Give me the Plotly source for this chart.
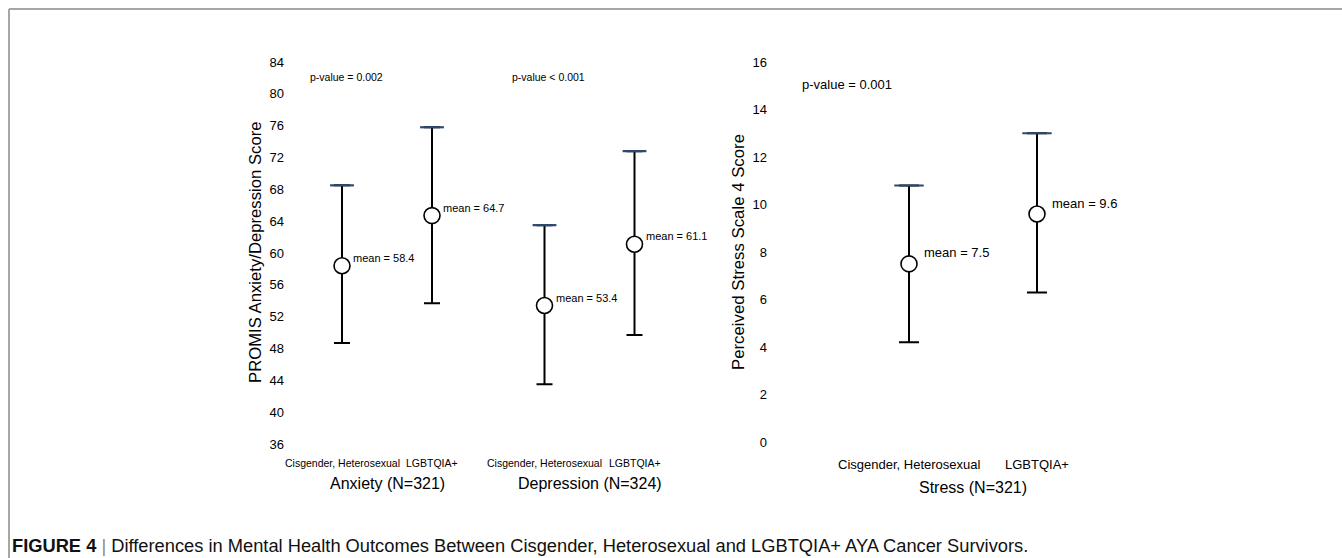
import plotly.graph_objects as go

# ---------------- data ----------------
groups_left = ["Anxiety (N=321)", "Depression (N=324)"]
groups_right = ["Stress (N=321)"]
subgroups = ["Cisgender, Heterosexual", "LGBTQIA+"]

anx_mean = [58.4, 64.7]
anx_upper = [68.5, 75.8]
anx_lower = [48.7, 53.7]

dep_mean = [53.4, 61.1]
dep_upper = [63.5, 72.8]
dep_lower = [43.5, 49.7]

str_mean = [7.5, 9.6]
str_upper = [10.8, 13.0]
str_lower = [4.2, 6.3]

p_left = ["p-value = 0.002", "p-value < 0.001"]
p_right = ["p-value = 0.001"]

left_ticks = [36, 40, 44, 48, 52, 56, 60, 64, 68, 72, 76, 80, 84]
right_ticks = [0, 2, 4, 6, 8, 10, 12, 14, 16]

# ---------------- layout helpers ----------------
W, H = 1342, 558
def fx(p):
    return p / W
def fy(p):
    return 1 - p / H

FONT = "Liberation Sans, Arial, sans-serif"
CAP_COLOR = "#2c4770"

fig = go.Figure()

GROUP_GAP = 2.25
left_sets = [(anx_mean, anx_upper, anx_lower), (dep_mean, dep_upper, dep_lower)]
for gi, (m, up, lo) in enumerate(left_sets):
    xs = [gi * GROUP_GAP + si for si in range(len(subgroups))]
    fig.add_trace(go.Scatter(
        x=xs, y=m, mode="markers", xaxis="x", yaxis="y",
        marker=dict(symbol="circle", size=16, color="white",
                    line=dict(color="black", width=1.6)),
        error_y=dict(type="data", symmetric=False,
                     array=[u - v for u, v in zip(up, m)],
                     arrayminus=[v - l for v, l in zip(m, lo)],
                     color="black", thickness=2, width=8),
        showlegend=False, hoverinfo="skip"))
    fig.add_trace(go.Scatter(
        x=xs, y=up, mode="markers", xaxis="x", yaxis="y",
        marker=dict(symbol="line-ew", size=17,
                    line=dict(color=CAP_COLOR, width=2.2)),
        showlegend=False, hoverinfo="skip"))
    for si, xv in enumerate(xs):
        fig.add_annotation(x=xv, y=m[si], xref="x", yref="y",
                           text=f"mean = {m[si]}", showarrow=False,
                           xanchor="left", yanchor="middle",
                           xshift=9, yshift=8,
                           font=dict(family=FONT, size=11, color="black"))
        fig.add_annotation(x=xv, y=fy(463), xref="x", yref="paper",
                           text=subgroups[si], showarrow=False,
                           xanchor="center", yanchor="middle",
                           font=dict(family=FONT, size=10.5, color="black"))
    fig.add_annotation(x=(xs[0] + xs[-1]) / 2, y=fy(483), xref="x", yref="paper",
                       text=groups_left[gi], showarrow=False,
                       xanchor="center", yanchor="middle",
                       font=dict(family=FONT, size=16, color="black"))
    fig.add_annotation(x=xs[0], y=82.1, xref="x", yref="y",
                       text=p_left[gi], showarrow=False,
                       xanchor="center", yanchor="middle", xshift=4,
                       font=dict(family=FONT, size=10.5, color="black"))

# right panel
xs_r = list(range(len(subgroups)))
fig.add_trace(go.Scatter(
    x=xs_r, y=str_mean, mode="markers", xaxis="x2", yaxis="y2",
    marker=dict(symbol="circle", size=16, color="white",
                line=dict(color="black", width=1.6)),
    error_y=dict(type="data", symmetric=False,
                 array=[u - v for u, v in zip(str_upper, str_mean)],
                 arrayminus=[v - l for v, l in zip(str_mean, str_lower)],
                 color="black", thickness=2, width=10),
    showlegend=False, hoverinfo="skip"))
fig.add_trace(go.Scatter(
    x=xs_r, y=str_upper, mode="markers", xaxis="x2", yaxis="y2",
    marker=dict(symbol="line-ew", size=21,
                line=dict(color=CAP_COLOR, width=2.2)),
    showlegend=False, hoverinfo="skip"))
for si, xv in enumerate(xs_r):
    fig.add_annotation(x=xv, y=str_mean[si], xref="x2", yref="y2",
                       text=f"mean = {str_mean[si]}", showarrow=False,
                       xanchor="left", yanchor="middle",
                       xshift=13, yshift=11,
                       font=dict(family=FONT, size=13, color="black"))
    fig.add_annotation(x=xv, y=fy(464), xref="x2", yref="paper",
                       text=subgroups[si], showarrow=False,
                       xanchor="center", yanchor="middle",
                       font=dict(family=FONT, size=13, color="black"))
fig.add_annotation(x=(xs_r[0] + xs_r[-1]) / 2, y=fy(487), xref="x2", yref="paper",
                   text=groups_right[0], showarrow=False,
                   xanchor="center", yanchor="middle",
                   font=dict(family=FONT, size=16, color="black"))
fig.add_annotation(x=fx(847), y=15.05, xref="paper", yref="y2",
                   text=p_right[0], showarrow=False,
                   xanchor="center", yanchor="middle",
                   font=dict(family=FONT, size=13, color="black"))

# axis titles
fig.add_annotation(x=fx(255), y=fy(252), xref="paper", yref="paper",
                   text="PROMIS Anxiety/Depression Score", textangle=-90,
                   showarrow=False, xanchor="center", yanchor="middle",
                   font=dict(family=FONT, size=16.7, color="black"))
fig.add_annotation(x=fx(738), y=fy(252), xref="paper", yref="paper",
                   text="Perceived Stress Scale 4 Score", textangle=-90,
                   showarrow=False, xanchor="center", yanchor="middle",
                   font=dict(family=FONT, size=16.8, color="black"))

# caption
fig.add_annotation(x=fx(10), y=fy(545), xref="paper", yref="paper",
                   text="<b>FIGURE 4</b> <span style='color:#888888'>|</span> "
                        "Differences in Mental Health Outcomes Between Cisgender, "
                        "Heterosexual and LGBTQIA+ AYA Cancer Survivors.",
                   showarrow=False, xanchor="left", yanchor="middle",
                   font=dict(family=FONT, size=18.3, color="#111111"))

# frame lines
fig.add_shape(type="line", xref="paper", yref="paper",
              x0=fx(9), y0=fy(9), x1=1, y1=fy(9),
              line=dict(color="#a6a6a6", width=2))
fig.add_shape(type="line", xref="paper", yref="paper",
              x0=fx(9), y0=fy(9), x1=fx(9), y1=0,
              line=dict(color="#a6a6a6", width=2))

# axes geometry
L_X0, L_X1 = 285, 700
L_XC, L_PPU = 342, 90
R_X0, R_X1 = 768, 1200
R_XC, R_PPU = 909, 128

L_YTOP, L_YBOT = 62, 444   # 84 and 36
L_ppu = (L_YBOT - L_YTOP) / (84 - 36)
R_YTOP, R_YBOT = 62, 442   # 16 and 0
R_ppu = (R_YBOT - R_YTOP) / 16

fig.update_layout(
    width=W, height=H,
    margin=dict(l=0, r=0, t=0, b=0),
    paper_bgcolor="white", plot_bgcolor="white",
    showlegend=False,
    xaxis=dict(domain=[fx(L_X0), fx(L_X1)],
               range=[(L_X0 - L_XC) / L_PPU, (L_X1 - L_XC) / L_PPU],
               visible=False, anchor="y"),
    yaxis=dict(domain=[fy(L_YBOT + 2 * L_ppu), fy(L_YTOP - 2 * L_ppu)],
               range=[34, 86], tickvals=left_ticks,
               showgrid=False, zeroline=False, showline=False, ticks="",
               tickfont=dict(family=FONT, size=13, color="black"),
               anchor="x"),
    xaxis2=dict(domain=[fx(R_X0), fx(R_X1)],
                range=[(R_X0 - R_XC) / R_PPU, (R_X1 - R_XC) / R_PPU],
                visible=False, anchor="y2"),
    yaxis2=dict(domain=[fy(R_YBOT + 0.5 * R_ppu), fy(R_YTOP - 0.5 * R_ppu)],
                range=[-0.5, 16.5], tickvals=right_ticks,
                showgrid=False, zeroline=False, showline=False, ticks="",
                tickfont=dict(family=FONT, size=13, color="black"),
                anchor="x2"),
)

fig.write_html("out.html",
               config={"displayModeBar": False},
               post_script="document.body.style.margin='0px';"
                           "document.body.style.overflow='hidden';")
